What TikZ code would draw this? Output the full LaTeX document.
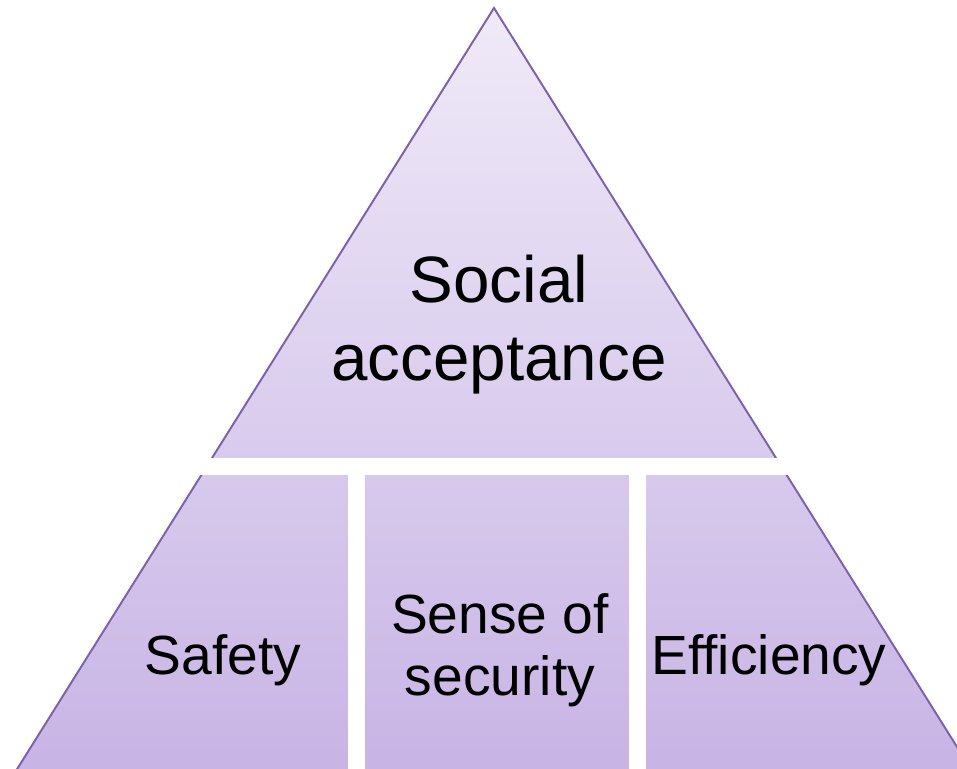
\documentclass[tikz,border=0pt]{standalone}
\usepackage{fontspec}
\setmainfont{Liberation Sans}
\usepackage{xcolor}
\definecolor{cEdge}{HTML}{7B60AA}
\definecolor{cTop}{HTML}{EFEAF8}
\definecolor{cBase}{HTML}{C8B4E5}
\usetikzlibrary{positioning}
\tikzset{
  pyr-body/.style={draw=cEdge,line width=1.1pt,top color=cTop,bottom color=cBase},
  pyr-gap/.style={fill=white,draw=none},
  lbl-top/.style={align=center,inner sep=0pt,font=\fontsize{37.3}{44.4}\selectfont},
  lbl-low/.style={align=center,inner sep=0pt,font=\fontsize{31.4}{35.3}\selectfont},
}

\begin{document}
\begin{tikzpicture}[x=0.02cm,y=-0.02cm]
  \useasboundingbox (0,0) rectangle (957,768);
  \clip (0,0) rectangle (957,768);
  % pyramid, then white gaps cut into it
  \path[pyr-body] (494,8) -- (971.5,770) -- (16.5,770) -- cycle;
  \fill[pyr-gap] (0,458) rectangle (957,475);
  \fill[pyr-gap] (348,475) rectangle (365,775);
  \fill[pyr-gap] (629,475) rectangle (646,775);
  % labels
  \node[lbl-top] (social) at (499,325) {Social\\acceptance};
  \node[lbl-low] (safety) at (223,660) {Safety};
  \node[lbl-low] (sense) at (500,650) {Sense of\\security};
  \node[lbl-low] (effic) at (769,660) {Efficiency};
\end{tikzpicture}
\end{document}
